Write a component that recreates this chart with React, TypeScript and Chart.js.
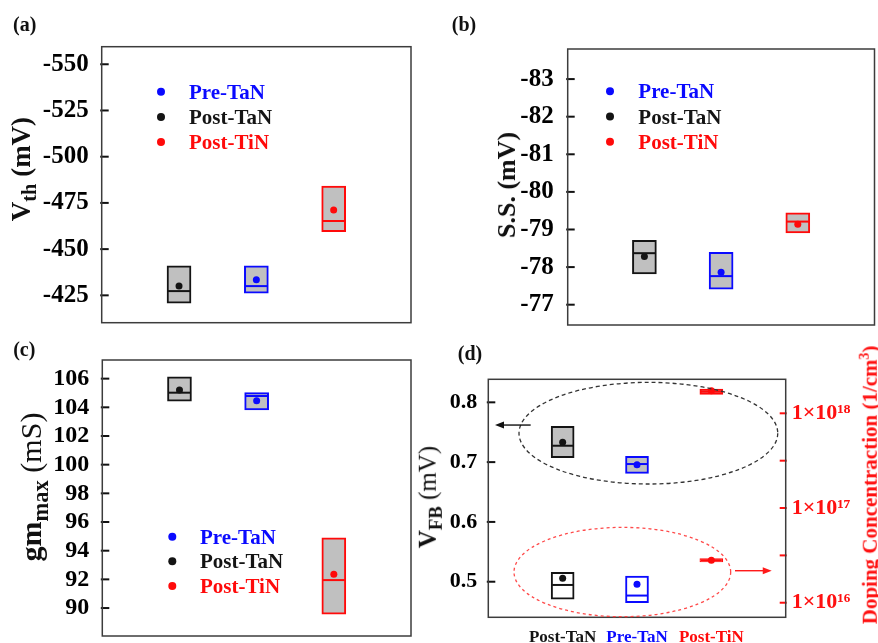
import React, { useEffect, useRef } from 'react';
import { Chart, registerables } from 'chart.js';

Chart.register(...registerables);

const FONT = '"Liberation Serif", "Times New Roman", Times, serif';

const categories = ['Post-TaN', 'Pre-TaN', 'Post-TiN'];
const legendItems = ['Pre-TaN', 'Post-TaN', 'Post-TiN'];

// (a) Vth (mV)
const vthTicks = [-550, -525, -500, -475, -450, -425];
const vthLow = [-420.8, -426.2, -459.4];
const vthHigh = [-441.0, -441.0, -484.1];
const vthMedian = [-427.3, -430.0, -465.2];
const vthMean = [-430.0, -433.4, -471.1];

// (b) S.S. (mV)
const ssTicks = [-83, -82, -81, -80, -79, -78, -77];
const ssLow = [-77.82, -77.41, -78.91];
const ssHigh = [-78.71, -78.39, -79.44];
const ssMedian = [-78.37, -77.76, -79.21];
const ssMean = [-78.28, -77.86, -79.14];

// (c) gm max (mS)
const gmTicks = [90, 92, 94, 96, 98, 100, 102, 104, 106];
const gmLow = [104.42, 103.82, 89.58];
const gmHigh = [106.12, 105.02, 94.9];
const gmMedian = [105.02, 104.79, 91.95];
const gmMean = [105.21, 104.46, 92.35];

// (d) VFB (mV)
const vfbTicks = [0.5, 0.6, 0.7, 0.8];
const vfbLow = [0.7074, 0.6813, 0.8134];
const vfbHigh = [0.7599, 0.7097, 0.8222];
const vfbMedian = [0.7274, 0.6968, 0.8177];
const vfbMean = [0.7331, 0.6957, 0.8194];

// (d) Doping concentration (1/cm^3)
const dopTicks = [1e16, 3.16e16, 1e17, 3.16e17, 1e18];
const dopLow = [1.09e16, 1.0e16, 2.69e16];
const dopHigh = [2.09e16, 1.91e16, 2.92e16];
const dopMedian = [1.54e16, 1.19e16, 2.81e16];
const dopMean = [1.81e16, 1.57e16, 2.81e16];

const CAT_COLOR: Record<string, string> = {
  'Post-TaN': '#141414',
  'Pre-TaN': '#0a0aff',
  'Post-TiN': '#ff0a0a',
};
const NONE = 'rgba(0,0,0,0)';

const pad = (arr: any[], fill: any = null) => [fill, ...arr, fill];
const catColors = pad(categories.map((c) => CAT_COLOR[c]), NONE);

function boxDataset(low: number[], high: number[], median: number[], yAxisID: string, fill: string, thickness: number, widths?: number[]) {
  return {
    type: 'bar',
    label: 'box',
    data: pad(low.map((v, i) => [v, high[i]])),
    backgroundColor: fill,
    borderColor: catColors,
    borderWidth: widths ? pad(widths, 0) : 2,
    borderSkipped: false,
    barThickness: thickness,
    grouped: false,
    medians: pad(median),
    yAxisID,
    order: 2,
  };
}

function meanDataset(mean: number[], yAxisID: string) {
  return {
    type: 'line',
    label: 'mean',
    data: pad(mean),
    showLine: false,
    pointRadius: 3.5,
    pointHoverRadius: 3.5,
    pointBackgroundColor: catColors,
    pointBorderWidth: 0,
    yAxisID,
    order: 1,
  };
}

function makePlugin(spec: any) {
  return {
    id: 'boxExtras',
    afterDatasetDraw(chart: any, args: any) {
      const ds = chart.data.datasets[args.index];
      if (!ds.medians) return;
      const meta = args.meta;
      const yScale = chart.scales[meta.yAxisID];
      const ctx = chart.ctx;
      meta.data.forEach((el: any, i: number) => {
        const m = ds.medians[i];
        if (m == null) return;
        const { x, width } = el.getProps(['x', 'width'], true);
        const y = yScale.getPixelForValue(m);
        ctx.save();
        ctx.strokeStyle = catColors[i];
        ctx.lineWidth = 2;
        ctx.beginPath();
        ctx.moveTo(x - width / 2 + 1, y);
        ctx.lineTo(x + width / 2 - 1, y);
        ctx.stroke();
        ctx.restore();
      });
    },
    afterDraw(chart: any) {
      const ctx = chart.ctx;
      const a = chart.chartArea;
      ctx.save();
      // inward tick marks
      Object.keys(chart.scales).forEach((id) => {
        const s = chart.scales[id];
        if (s.axis !== 'y') return;
        ctx.strokeStyle = (spec.tickColors && spec.tickColors[id]) || '#111';
        ctx.lineWidth = 2;
        s.ticks.forEach((t: any) => {
          const y = s.getPixelForValue(t.value);
          ctx.beginPath();
          if (s.position === 'right') {
            ctx.moveTo(a.right + 1, y);
            ctx.lineTo(a.right - 6, y);
          } else {
            ctx.moveTo(a.left - 1.5, y);
            ctx.lineTo(a.left + 7, y);
          }
          ctx.stroke();
        });
      });
      // frame
      ctx.strokeStyle = '#3c3c3c';
      ctx.lineWidth = 1.5;
      ctx.strokeRect(a.left, a.top, a.right - a.left, a.bottom - a.top);
      // legend
      if (spec.legend) {
        const L = spec.legend;
        legendItems.forEach((name, i) => {
          const y = L.y0 + i * L.dy;
          ctx.fillStyle = CAT_COLOR[name];
          ctx.beginPath();
          ctx.arc(L.dotX, y, 4, 0, Math.PI * 2);
          ctx.fill();
          ctx.font = `bold 21px ${FONT}`;
          ctx.textBaseline = 'alphabetic';
          ctx.textAlign = 'left';
          ctx.fillText(name, L.textX, y + 7);
        });
      }
      // annotations (data units: x = category index, y = left axis value)
      if (spec.annotations) {
        const xs = chart.scales.x;
        const ys = chart.scales.y;
        const unit = xs.getPixelForValue(1) - xs.getPixelForValue(0);
        spec.annotations.ellipses.forEach((e: any) => {
          const cx = xs.getPixelForValue(e.cx);
          const cy = ys.getPixelForValue(e.cy);
          const ry = Math.abs(ys.getPixelForValue(e.cy + e.ry) - cy);
          ctx.strokeStyle = e.color;
          ctx.lineWidth = 1.3;
          ctx.setLineDash(e.dash);
          ctx.beginPath();
          ctx.ellipse(cx, cy, e.rx * unit, ry, 0, 0, Math.PI * 2);
          ctx.stroke();
        });
        ctx.setLineDash([]);
        spec.annotations.arrows.forEach((ar: any) => {
          const x0 = xs.getPixelForValue(ar.x0);
          const x1 = xs.getPixelForValue(ar.x1);
          const y = ys.getPixelForValue(ar.y);
          const dir = Math.sign(x1 - x0);
          ctx.strokeStyle = ar.color;
          ctx.fillStyle = ar.color;
          ctx.lineWidth = 1.4;
          ctx.beginPath();
          ctx.moveTo(x0, y);
          ctx.lineTo(x1 - dir * 6, y);
          ctx.stroke();
          ctx.beginPath();
          ctx.moveTo(x1, y);
          ctx.lineTo(x1 - dir * 9, y - 3.5);
          ctx.lineTo(x1 - dir * 9, y + 3.5);
          ctx.closePath();
          ctx.fill();
        });
      }
      ctx.restore();
    },
  };
}

function yAxis(p: any) {
  return {
    type: p.type || 'linear',
    position: p.position || 'left',
    min: p.min,
    max: p.max,
    reverse: !!p.reverse,
    afterBuildTicks: (s: any) => {
      s.ticks = p.ticks.map((v: number) => ({ value: v }));
    },
    afterFit: (s: any) => {
      s.width = p.width;
      s.paddingTop = 0;
      s.paddingBottom = 0;
    },
    grid: { display: false, drawTicks: false },
    border: { display: false },
    ticks: {
      color: p.color || '#000',
      padding: p.tickPad,
      font: { family: FONT, size: p.tickSize, weight: 'bold' },
      callback: p.callback,
    },
  };
}

function singleConfig(p: any) {
  return {
    type: 'bar',
    data: {
      labels: ['', ...categories, ''],
      datasets: [meanDataset(p.mean, 'y'), boxDataset(p.low, p.high, p.median, 'y', '#c0c0c0', p.thickness)],
    },
    options: {
      responsive: false,
      animation: false,
      events: [],
      layout: { padding: p.padding },
      plugins: { legend: { display: false }, tooltip: { enabled: false } },
      scales: {
        x: { display: false, offset: false },
        y: yAxis(p.axis),
      },
    },
    plugins: [makePlugin({ legend: p.legend })],
  };
}

const SUP: Record<string, string> = { '0': '⁰', '1': '¹', '2': '²', '3': '³', '4': '⁴', '5': '⁵', '6': '⁶', '7': '⁷', '8': '⁸', '9': '⁹' };
const powerLabel = (v: number) => {
  const e = Math.log10(v);
  if (Math.abs(e - Math.round(e)) > 1e-6) return '';
  return '1×10' + String(Math.round(e)).split('').map((d) => SUP[d]).join('');
};

const configA = () =>
  singleConfig({
    mean: vthMean, low: vthLow, high: vthHigh, median: vthMedian, thickness: 24,
    padding: { top: 46.7, right: 29, bottom: 7.3, left: 0 },
    axis: { min: -559.5, max: -410.2, reverse: true, ticks: vthTicks, width: 101.7, tickPad: 13, tickSize: 25 },
    legend: { dotX: 161, textX: 189, y0: 91.7, dy: 25.2 },
  });

const configB = () =>
  singleConfig({
    mean: ssMean, low: ssLow, high: ssHigh, median: ssMedian, thickness: 24,
    padding: { top: 49, right: 1.3, bottom: 5, left: 0 },
    axis: { min: -83.8, max: -76.46, reverse: true, ticks: ssTicks, width: 127.7, tickPad: 14, tickSize: 25 },
    legend: { dotX: 170, textX: 198.3, y0: 91.3, dy: 25.2 },
  });

const configC = () =>
  singleConfig({
    mean: gmMean, low: gmLow, high: gmHigh, median: gmMedian, thickness: 24,
    padding: { top: 30, right: 29, bottom: 7, left: 0 },
    axis: { min: 88.05, max: 107.3, ticks: gmTicks, width: 102.3, tickPad: 13, tickSize: 24 },
    legend: { dotX: 172.3, textX: 200, y0: 206.7, dy: 24.65 },
  });

const annotationsD = {
  ellipses: [
    { cx: 2.153, cy: 0.7484, rx: 1.74, ry: 0.085, color: '#333', dash: [4, 3] },
    { cx: 1.803, cy: 0.5162, rx: 1.457, ry: 0.0747, color: '#ff4a4a', dash: [3, 3] },
  ],
  arrows: [
    { x0: 0.57, x1: 0.09, y: 0.762, color: '#111' },
    { x0: 3.318, x1: 3.812, y: 0.5184, color: '#ff1a1a' },
  ],
};

const configD = () => ({
  type: 'bar',
  data: {
    labels: ['', ...categories, ''],
    datasets: [
      meanDataset(vfbMean, 'y'),
      meanDataset(dopMean, 'y2'),
      boxDataset(vfbLow, vfbHigh, vfbMedian, 'y', '#c0c0c0', 23),
      boxDataset(dopLow, dopHigh, dopMedian, 'y2', '#ffffff', 23, [2, 2, 1.2]),
    ],
  },
  options: {
    responsive: false,
    animation: false,
    events: [],
    layout: { padding: { top: 49.3, right: 0, bottom: 0, left: 0 } },
    plugins: { legend: { display: false }, tooltip: { enabled: false } },
    scales: {
      x: {
        type: 'category',
        offset: false,
        grid: { display: false, drawTicks: false },
        border: { display: false },
        afterFit: (s: any) => {
          s.height = 25.7;
          s.paddingLeft = 0;
          s.paddingRight = 0;
        },
        ticks: {
          autoSkip: false,
          maxRotation: 0,
          padding: 10,
          color: (c: any) => catColors[c.index] || NONE,
          font: { family: FONT, size: 17, weight: 'bold' },
        },
      },
      y: yAxis({ min: 0.4405, max: 0.8385, ticks: vfbTicks, width: 48.3, tickPad: 11, tickSize: 22 }),
      y2: yAxis({
        type: 'logarithmic', position: 'right', min: 7.015e15, max: 2.286e18, ticks: dopTicks,
        width: 92.3, tickPad: 6, tickSize: 22, color: '#ff1010', callback: (v: number) => powerLabel(v),
      }),
    },
  },
  plugins: [makePlugin({ annotations: annotationsD, tickColors: { y2: '#ff1010' } })],
});

function ChartPanel({ x, y, w, h, make }: any) {
  const ref = useRef<HTMLCanvasElement>(null);
  useEffect(() => {
    const chart = new Chart(ref.current as any, make());
    return () => chart.destroy();
  }, []);
  return <canvas ref={ref} width={w} height={h} style={{ position: 'absolute', left: x, top: y, width: w, height: h }} />;
}

function Label({ cx, cy, rotate, size, color, children, weight }: any) {
  return (
    <div
      style={{
        position: 'absolute',
        left: cx,
        top: cy,
        transform: `translate(-50%, -50%)${rotate ? ' rotate(-90deg)' : ''}`,
        whiteSpace: 'nowrap',
        fontFamily: FONT,
        fontWeight: weight || 'bold',
        fontSize: size,
        color: color || '#111',
        lineHeight: 1,
      }}
    >
      {children}
    </div>
  );
}

const sub = (t: string) => <span style={{ fontSize: '75%', verticalAlign: '-0.3em' }}>{t}</span>;

export default function App() {
  return (
    <div style={{ position: 'absolute', left: 0, top: 0, width: 878, height: 643, background: '#fff', overflow: 'hidden' }}>
      <ChartPanel x={0} y={0} w={440} h={330} make={configA} />
      <ChartPanel x={440} y={0} w={438} h={330} make={configB} />
      <ChartPanel x={0} y={330} w={440} h={313} make={configC} />
      <ChartPanel x={440} y={330} w={438} h={313} make={configD} />

      <Label cx={24.7} cy={23.5} size={20}>(a)</Label>
      <Label cx={464} cy={23.5} size={20}>(b)</Label>
      <Label cx={24.3} cy={349} size={20}>(c)</Label>
      <Label cx={470} cy={352.5} size={20}>(d)</Label>

      <Label cx={24.3} cy={169.2} size={27} rotate>
        V{sub('th')} (mV)
      </Label>
      <Label cx={506.7} cy={184.5} size={26} rotate>
        S.S. (mV)
      </Label>
      <Label cx={34} cy={487} size={30} rotate>
        gm{sub('max')}<span style={{ fontWeight: 'normal' }}> (mS)</span>
      </Label>
      <Label cx={430} cy={497} size={25} rotate>
        V{sub('FB')}<span style={{ fontWeight: 'normal' }}> (mV)</span>
      </Label>
      <Label cx={869} cy={485} size={21} rotate color="#ff1010">
        Doping Concentraction (1/cm<span style={{ fontSize: '65%', verticalAlign: '0.55em' }}>3</span>)
      </Label>
    </div>
  );
}
